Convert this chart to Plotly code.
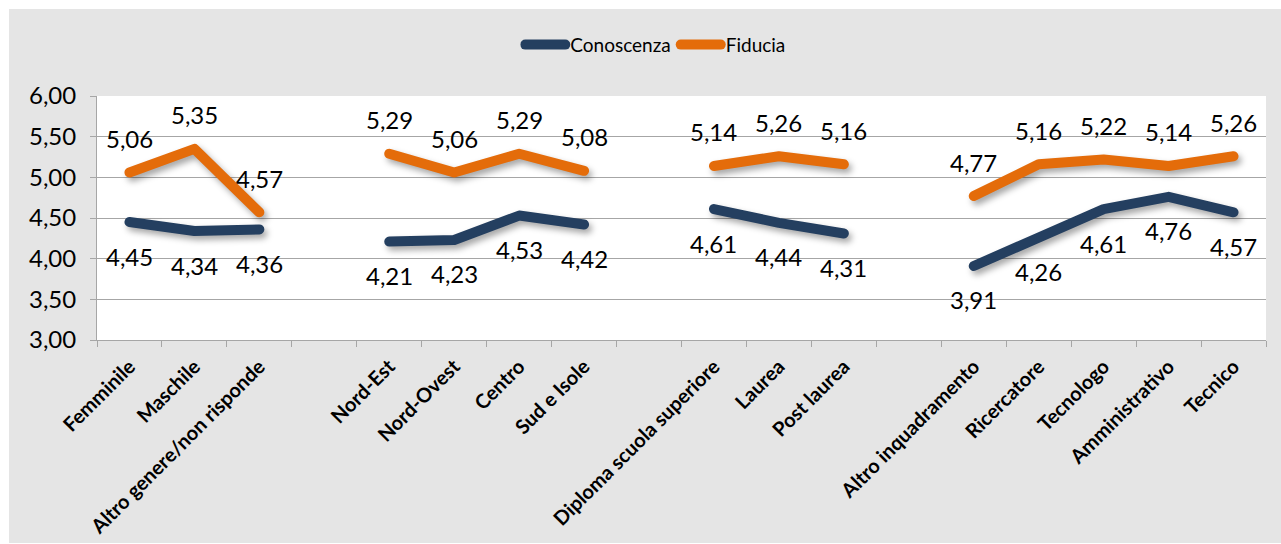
import plotly.graph_objects as go

categories = ["Femminile", "Maschile", "Altro genere/non risponde", " ",
              "Nord-Est", "Nord-Ovest", "Centro", "Sud e Isole", "  ",
              "Diploma scuola superiore", "Laurea", "Post laurea", "   ",
              "Altro inquadramento", "Ricercatore", "Tecnologo", "Amministrativo", "Tecnico"]
conoscenza = [4.45, 4.34, 4.36, None, 4.21, 4.23, 4.53, 4.42, None,
              4.61, 4.44, 4.31, None, 3.91, 4.26, 4.61, 4.76, 4.57]
fiducia = [5.06, 5.35, 4.57, None, 5.29, 5.06, 5.29, 5.08, None,
           5.14, 5.26, 5.16, None, 4.77, 5.16, 5.22, 5.14, 5.26]

NAVY = "#243f60"
ORANGE = "#e46c0a"
FONT = "Lato"

fig = go.Figure()
fig.add_trace(go.Scatter(x=categories, y=conoscenza, mode="lines", name="Conoscenza",
                         line=dict(color=NAVY, width=10), connectgaps=False))
fig.add_trace(go.Scatter(x=categories, y=fiducia, mode="lines", name="Fiducia",
                         line=dict(color=ORANGE, width=10), connectgaps=False))

annotations = []
for c, v in zip(categories, conoscenza):
    if v is not None:
        annotations.append(dict(x=c, y=v, text=f"{v:.2f}".replace(".", ","), showarrow=False,
                                yshift=-34, font=dict(family=FONT, size=24, color="#000")))
for c, v in zip(categories, fiducia):
    if v is not None:
        annotations.append(dict(x=c, y=v, text=f"{v:.2f}".replace(".", ","), showarrow=False,
                                yshift=34, font=dict(family=FONT, size=24, color="#000")))

W, H = 1281, 544
L, R, T, B = 97, 15, 96, 204
pw, ph = W - L - R, H - T - B
shapes = [
    dict(type="rect", xref="paper", yref="paper", layer="below",
         x0=(9 - L) / pw, x1=(W - L) / pw, y0=-(H - 1 - T - ph) / ph, y1=(H - B - 9) / ph,
         fillcolor="#e5e5e5", line=dict(width=0)),
    dict(type="rect", xref="paper", yref="paper", layer="below",
         x0=0, x1=1, y0=0, y1=1, fillcolor="white", line=dict(width=0)),
]

fig.update_layout(
    width=W, height=H,
    margin=dict(l=L, r=R, t=T, b=B, autoexpand=False),
    paper_bgcolor="white", plot_bgcolor="white",
    separators=",.",
    font=dict(family=FONT, color="#000"),
    showlegend=True,
    legend=dict(orientation="h", x=0.478, xanchor="center", y=1.21, yanchor="middle",
                font=dict(family=FONT, size=19, color="#000"), bgcolor="rgba(0,0,0,0)",
                itemwidth=40),
    annotations=annotations,
    shapes=shapes,
    xaxis=dict(type="category", categoryorder="array", categoryarray=categories,
               range=[-0.5, len(categories) - 0.5], tickson="boundaries",
               ticks="outside", ticklen=6, tickcolor="#a6a6a6", showgrid=False,
               showline=True, linecolor="#a6a6a6", linewidth=1, automargin=False,
               ticklabelstandoff=6,
               tickangle=-45, tickfont=dict(family=FONT, size=20, color="#000", weight="bold"),
               fixedrange=True),
    yaxis=dict(range=[3, 6], dtick=0.5, tickformat=".2f", showgrid=True, gridcolor="#a6a6a6",
               gridwidth=1, showline=True, linecolor="#a6a6a6", linewidth=1, ticks="outside",
               ticklen=6, tickcolor="#a6a6a6", zeroline=False, automargin=False,
               ticklabelstandoff=9,
               tickfont=dict(family=FONT, size=24, color="#000"), fixedrange=True),
)

post = """
document.body.style.margin='0';
document.body.style.overflow='hidden';
document.querySelectorAll('.scatterlayer path.js-line').forEach(function(p){
  p.style.strokeLinecap='round'; p.style.strokeLinejoin='round';
  p.style.filter='drop-shadow(3px 4px 3px rgba(0,0,0,0.35))';
});
document.querySelectorAll('.legend path.js-line').forEach(function(p){
  p.style.strokeLinecap='round';
});
"""
fig.write_html("out.html", config={"displayModeBar": False}, post_script=post)
